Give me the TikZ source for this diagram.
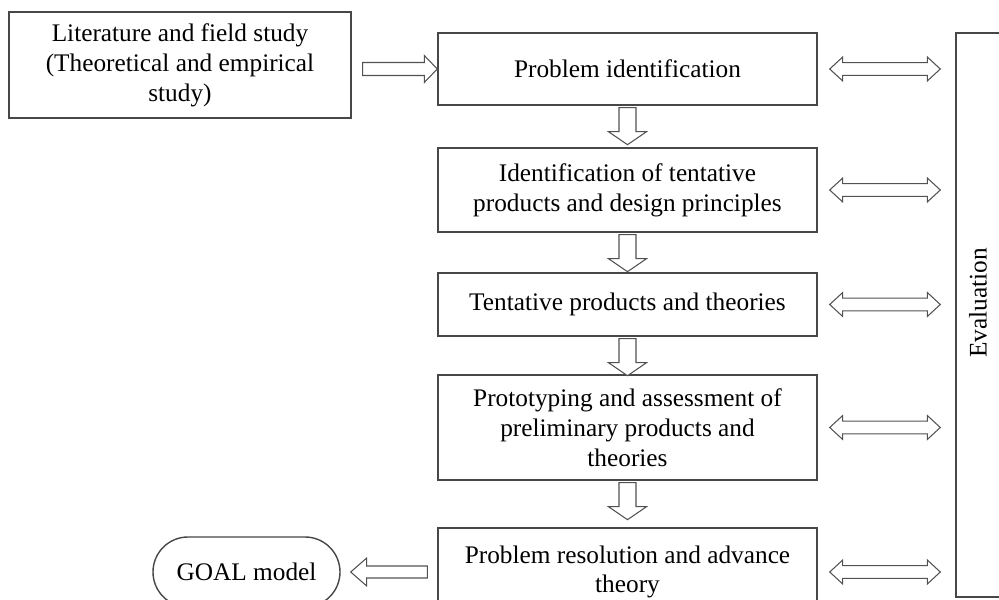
\documentclass[tikz,border=0pt]{standalone}
\usepackage{fontspec}
\setmainfont{Liberation Serif}
\usetikzlibrary{calc}

% hollow block arrows, tail #1 and tip #2
\newcommand{\rightblock}[2]{%
  \draw[block line] ($(#1)+(0,-6.5)$) -- ($(#2)+(-13,-6.5)$) -- ($(#2)+(-13,-13.5)$) -- (#2)
    -- ($(#2)+(-13,13.5)$) -- ($(#2)+(-13,6.5)$) -- ($(#1)+(0,6.5)$) -- cycle;}
\newcommand{\leftblock}[2]{%
  \draw[block line] ($(#1)+(0,-6)$) -- ($(#2)+(16,-6)$) -- ($(#2)+(16,-14)$) -- (#2)
    -- ($(#2)+(16,14)$) -- ($(#2)+(16,6)$) -- ($(#1)+(0,6)$) -- cycle;}
\newcommand{\downblock}[2]{%
  \draw[block line] ($(#1)+(-8.5,0)$) -- ($(#2)+(-8.5,-13)$) -- ($(#2)+(-19,-13)$) -- (#2)
    -- ($(#2)+(19,-13)$) -- ($(#2)+(8.5,-13)$) -- ($(#1)+(8.5,0)$) -- cycle;}
\newcommand{\bothblock}[2]{%
  \draw[block line] (#1) -- ($(#1)+(13,-12)$) -- ($(#1)+(13,-6.3)$) -- ($(#2)+(-13,-6.3)$)
    -- ($(#2)+(-13,-12)$) -- (#2) -- ($(#2)+(-13,12)$) -- ($(#2)+(-13,6.3)$)
    -- ($(#1)+(13,6.3)$) -- ($(#1)+(13,12)$) -- cycle;}

\begin{document}
\begin{tikzpicture}[x=0.03cm,y=-0.03cm,
  box/.style={draw=black!72,line width=1.2pt,align=center,inner sep=0pt,
    font=\fontsize{21.6}{25.5}\selectfont},
  block line/.style={draw=black!68,line width=0.9pt,fill=white,line join=miter}]

  \useasboundingbox (0,0) rectangle (999,600);
  \clip (0,0) rectangle (999,600);

  \node[box,minimum width=10.26cm,minimum height=3.18cm] (lit) at (180,65)
    {Literature and field study\\(Theoretical and empirical\\study)};
  \node[box,minimum width=11.37cm,minimum height=2.16cm] (probid) at (627.5,69)
    {Problem identification};
  \node[box,minimum width=11.37cm,minimum height=2.52cm] (tentid) at (627.5,190)
    {Identification of tentative\\products and design principles};
  \node[box,minimum width=11.37cm,minimum height=1.89cm] (tentprod) at (627.5,304.5)
    {Tentative products and theories};
  \node[box,minimum width=11.37cm,minimum height=3.15cm] (proto) at (627.5,427.5)
    {Prototyping and assessment of\\preliminary products and\\theories};
  \node[box,minimum width=11.37cm,minimum height=2.64cm] (resol) at (627.5,572)
    {Problem resolution and advance\\theory};
  \node[box,minimum width=1.41cm,minimum height=16.92cm] (eval) at (979.5,315) {};
  \node[box,draw=none,rotate=90] (evaltext) at (978,303) {Evaluation};
  \node[box,rounded corners=1.05cm,minimum width=5.61cm,minimum height=2.1cm] (goal)
    at (246.5,572) {GOAL model};

  % literature -> problem identification
  \coordinate (t-lit) at ($(lit.east |- probid.west)+(11,0)$);
  \rightblock{t-lit}{probid.west}

  % steps down the middle column
  \foreach \a in {probid,tentid,tentprod,proto}{
    \coordinate (t-\a) at ($(\a.south)+(0,2)$);
    \coordinate (h-\a) at ($(t-\a)+(0,37)$);
    \downblock{t-\a}{h-\a}
  }

  % links to evaluation
  \foreach \b in {probid,tentid,tentprod,proto,resol}{
    \coordinate (l-\b) at ($(\b.east)+(12,0)$);
    \coordinate (r-\b) at ($(\b.east -| eval.west)+(-15,0)$);
    \bothblock{l-\b}{r-\b}
  }

  % resolution -> GOAL model
  \coordinate (t-goal) at ($(resol.west)+(-10,0)$);
  \coordinate (h-goal) at ($(goal.east)+(10,0)$);
  \leftblock{t-goal}{h-goal}
\end{tikzpicture}
\end{document}
